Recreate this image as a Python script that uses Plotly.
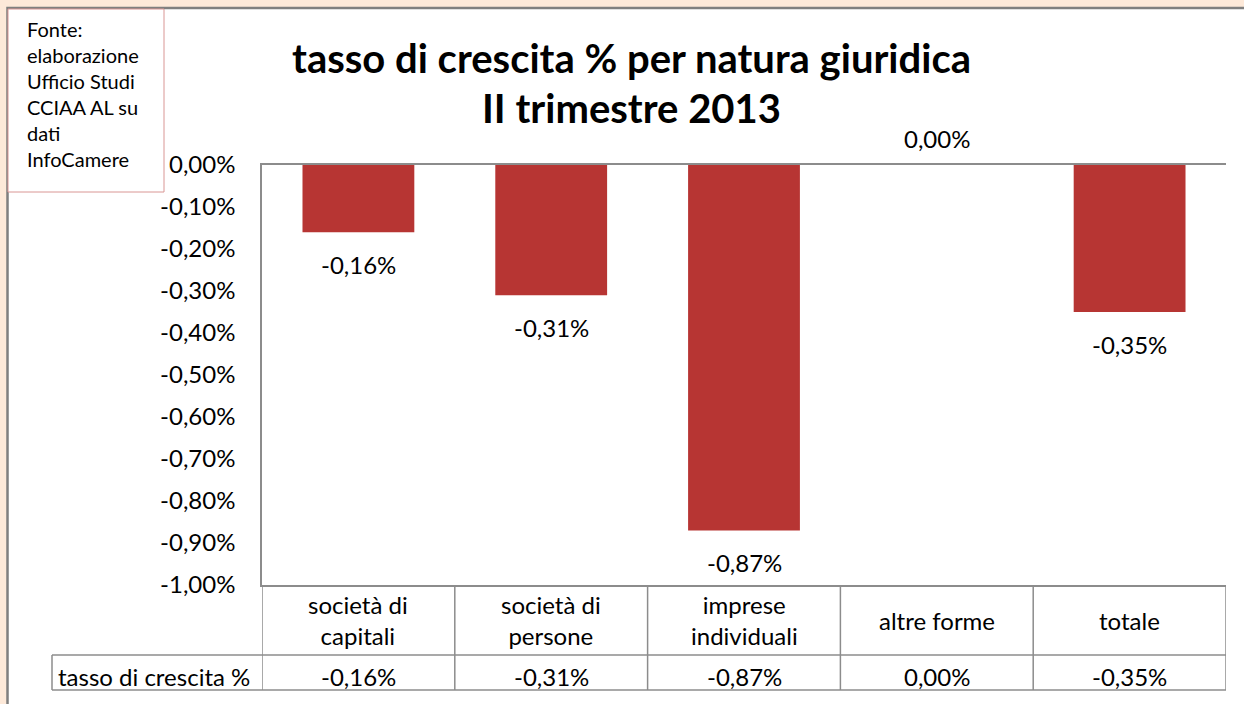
import plotly.graph_objects as go

# dati
categorie = ["società di<br>capitali", "società di<br>persone", "imprese<br>individuali",
             "altre forme", "totale"]
tasso = [-0.16, -0.31, -0.87, 0.00, -0.35]
tick_vals = [0.0, -0.1, -0.2, -0.3, -0.4, -0.5, -0.6, -0.7, -0.8, -0.9, -1.0]
titolo = ["tasso di crescita % per natura giuridica", "II trimestre 2013"]
nota = "Fonte:<br>elaborazione<br>Ufficio Studi<br>CCIAA AL su<br>dati<br>InfoCamere"
riga_label = "tasso di crescita %"

FONT = "Lato"
GRIGIO = "#8C8C8C"
PESCA = "#FDE9D9"

# area del grafico in pixel
W_FIG, H_FIG = 1244, 704
L, R, T, B = 262, 1226, 165, 585
W, H = R - L, B - T


def px_x(p):
    return (p - L) / W


def px_y(p):
    return (B - p) / H


def fmt(v):
    s = f"{v:.2f}".replace(".", ",") + "%"
    return s


fig = go.Figure()
fig.add_trace(go.Bar(x=list(range(len(categorie))), y=tasso,
                     marker=dict(color="#B73533", line=dict(width=0)),
                     width=0.58, hoverinfo="skip"))

shapes = []
# sfondo bianco del grafico
shapes.append(dict(type="rect", xref="paper", yref="paper", layer="below",
                   x0=px_x(7.5), x1=px_x(1260), y0=px_y(8), y1=px_y(720),
                   fillcolor="white", line=dict(color="#7F7F7F", width=2.5)))
# box fonte
shapes.append(dict(type="rect", xref="paper", yref="paper",
                   x0=px_x(8), x1=px_x(164), y0=px_y(9), y1=px_y(192),
                   fillcolor="white", line=dict(color="#D99694", width=1)))

# tabella dati
for i in range(len(categorie) + 1):
    shapes.append(dict(type="line", xref="x", yref="paper",
                       x0=i - 0.5, x1=i - 0.5, y0=0, y1=px_y(690),
                       line=dict(color=GRIGIO, width=1.5)))
for yy in [655, 690]:
    shapes.append(dict(type="line", xref="paper", yref="paper",
                       x0=px_x(52), x1=1, y0=px_y(yy), y1=px_y(yy),
                       line=dict(color=GRIGIO, width=1.5)))
shapes.append(dict(type="line", xref="paper", yref="paper",
                   x0=px_x(52), x1=px_x(52), y0=px_y(655), y1=px_y(690),
                   line=dict(color=GRIGIO, width=1.5)))

annotations = []
# titolo
for k, riga in enumerate(titolo):
    annotations.append(dict(text="<b>" + riga + "</b>", xref="paper", yref="paper",
                            x=px_x(631), y=px_y(58 + 50 * k), showarrow=False,
                            xanchor="center", yanchor="middle",
                            font=dict(family=FONT, size=40, color="black")))
# fonte
annotations.append(dict(text=nota, xref="paper", yref="paper", x=px_x(25), y=px_y(15),
                        showarrow=False, xanchor="left", yanchor="top", align="left",
                        font=dict(family=FONT, size=20, color="black")))

# etichette dati
for i, v in enumerate(tasso):
    annotations.append(dict(text=fmt(v), x=i, y=v, xref="x", yref="y", showarrow=False,
                            yshift=-32 if v < 0 else 27,
                            font=dict(family=FONT, size=24, color="black")))

# testo tabella
for i, (c, v) in enumerate(zip(categorie, tasso)):
    annotations.append(dict(text=c, x=i, y=px_y(620), xref="x", yref="paper",
                            showarrow=False, yanchor="middle",
                            font=dict(family=FONT, size=24, color="black")))
    annotations.append(dict(text=fmt(v), x=i, y=px_y(676), xref="x", yref="paper",
                            showarrow=False, yanchor="middle",
                            font=dict(family=FONT, size=24, color="black")))
annotations.append(dict(text=riga_label, x=px_x(56), y=px_y(676), xref="paper", yref="paper",
                        showarrow=False, xanchor="left", yanchor="middle",
                        font=dict(family=FONT, size=24, color="black")))

fig.update_layout(
    width=W_FIG, height=H_FIG,
    margin=dict(l=L, r=W_FIG - R, t=T, b=H_FIG - B, pad=0),
    paper_bgcolor=PESCA, plot_bgcolor="white",
    showlegend=False, bargap=0.42,
    shapes=shapes, annotations=annotations,
    font=dict(family=FONT, size=24, color="black"),
)
fig.update_xaxes(range=[-0.5, len(categorie) - 0.5], showticklabels=False, ticks="",
                 showgrid=False, zeroline=False, showline=True, mirror=True,
                 linecolor=GRIGIO, linewidth=2)
fig.update_yaxes(range=[-1, 0], tickvals=tick_vals, ticktext=[fmt(v) for v in tick_vals],
                 showgrid=False, zeroline=False, showline=True, linecolor=GRIGIO,
                 linewidth=1.5, ticks="", ticklabelstandoff=20,
                 tickfont=dict(family=FONT, size=24, color="black"))

# niente margine della pagina, cosi la figura riempie la finestra
fig.write_html("out.html", config={"displayModeBar": False},
               post_script="document.body.style.margin='0';"
                           "document.body.style.background='" + PESCA + "';")
